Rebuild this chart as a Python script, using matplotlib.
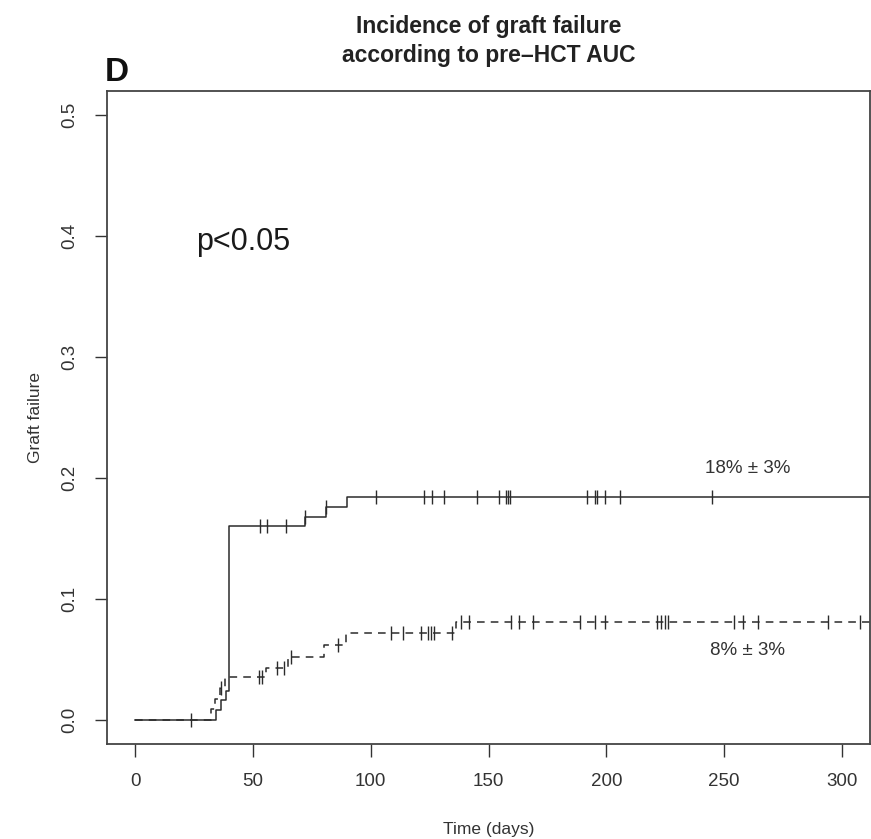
import numpy as np
import matplotlib
matplotlib.use("Agg")
import matplotlib.pyplot as plt

plt.rcParams["font.family"] = ["Liberation Sans", "DejaVu Sans"]

# ============================================================
# Dados
# ============================================================

# curva contínua (linha cheia)
tempo_cheia = [0, 34.2, 36.5, 38.5, 39.8, 72.0, 81.0, 89.9, 312]
falha_cheia = [0.0, 0.008, 0.016, 0.024, 0.160, 0.168, 0.176, 0.184, 0.184]
censura_cheia = [23.5, 53.0, 55.9, 63.9, 72.0, 81.0, 102.2, 122.8, 126.0,
                 131.3, 145.0, 154.3, 157.5, 158.2, 159.0, 192.0, 195.1,
                 196.1, 199.4, 206.0, 245.0]

# curva tracejada
tempo_tracejada = [0, 32.0, 34.0, 36.0, 38.0, 55.4, 64.7, 80.3, 89.5, 136.3, 312]
falha_tracejada = [0.0, 0.0088, 0.0176, 0.0264, 0.0352, 0.043, 0.052, 0.0615,
                   0.0715, 0.081, 0.081]
censura_tracejada = [36.5, 52.6, 54.0, 60.4, 63.2, 66.1, 86.0, 108.6, 113.6,
                     121.4, 124.2, 125.6, 127.0, 134.5, 138.4, 141.9, 159.4,
                     162.9, 168.9, 188.7, 195.1, 199.4, 221.5, 223.2, 224.8,
                     226.3, 254.4, 258.2, 264.6, 294.3, 307.5]

ticks_x = [0, 50, 100, 150, 200, 250, 300]
ticks_y = [0.0, 0.1, 0.2, 0.3, 0.4, 0.5]

rotulo_cheia = "18% \u00b1 3%"
rotulo_tracejada = "8% \u00b1 3%"


def valor_no_tempo(tempos, valores, t):
    # valor da curva em degrau no instante t
    i = np.searchsorted(tempos, t, side="right") - 1
    return np.asarray(valores)[i]


# ============================================================
# Gráfico
# ============================================================

fig = plt.figure(figsize=(8.71, 8.39), dpi=100)
ax = fig.add_axes([0.1228, 0.1132, 0.8762, 0.7783])

cor_linha = "#2b2b2b"

ax.step(tempo_cheia, falha_cheia, where="post", color=cor_linha,
        linewidth=1.1)
ax.plot(censura_cheia,
        [valor_no_tempo(tempo_cheia, falha_cheia, t) for t in censura_cheia],
        linestyle="none", marker="|", markersize=10.5, markeredgewidth=1.0,
        color=cor_linha)

ax.step(tempo_tracejada, falha_tracejada, where="post", color=cor_linha,
        linewidth=1.1, dashes=(5, 4))
ax.plot(censura_tracejada,
        [valor_no_tempo(tempo_tracejada, falha_tracejada, t) for t in censura_tracejada],
        linestyle="none", marker="|", markersize=10.5, markeredgewidth=1.0,
        color=cor_linha)

ax.text(260, 0.208, rotulo_cheia, ha="center", va="center", fontsize=13.5,
        color="#333333")
ax.text(260, 0.057, rotulo_tracejada, ha="center", va="center", fontsize=13.5,
        color="#333333")

ax.text(26, 0.395, "p<0.05", ha="left", va="center", fontsize=22,
        color="#1a1a1a")

ax.set_xlim(-12, 312)
ax.set_ylim(-0.02, 0.52)
ax.set_xticks(ticks_x)
ax.set_yticks(ticks_y)
ax.set_yticklabels([f"{v:.1f}" for v in ticks_y], rotation=90, va="center")

ax.tick_params(axis="both", direction="out", length=9, width=1.0,
               labelsize=13.5, colors="#333333", pad=12)

for lado in ax.spines.values():
    lado.set_linewidth(1.3)
    lado.set_color("#444444")

ax.set_xlabel("Time (days)", fontsize=12.5, color="#333333", labelpad=23)
ax.set_ylabel("Graft failure", fontsize=12.5, color="#333333", labelpad=13)

ax.set_title("Incidence of graft failure\naccording to pre\u2013HCT AUC",
             fontsize=16.5, fontweight="bold", color="#222222", pad=21,
             linespacing=1.35)

fig.text(0.1205, 0.914, "D", fontsize=24, fontweight="bold",
         ha="left", va="center", color="#111111")

fig.savefig("out.png", dpi=100)
